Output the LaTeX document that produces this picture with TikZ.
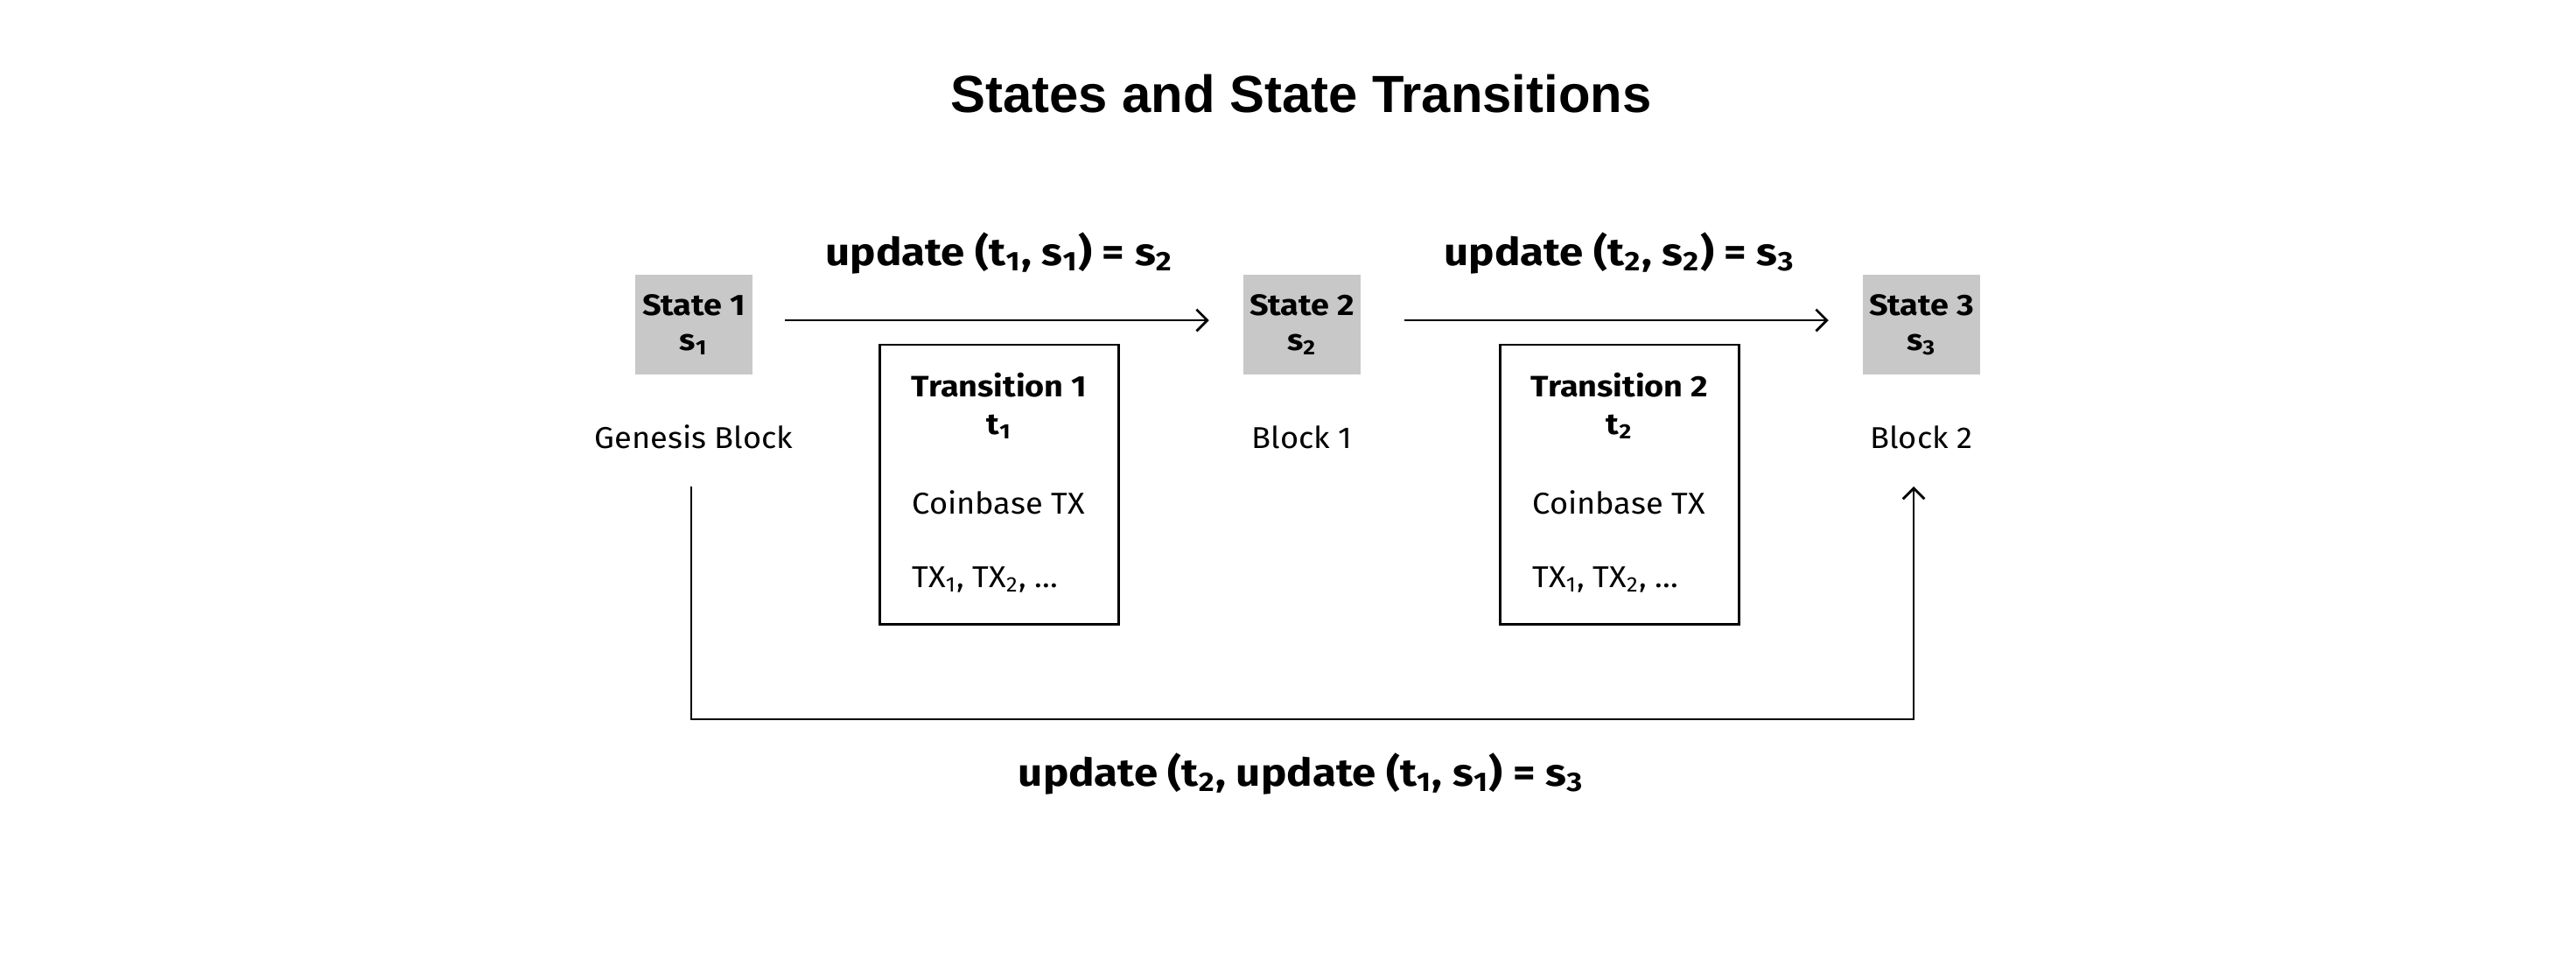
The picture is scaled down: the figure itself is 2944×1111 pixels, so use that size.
\documentclass[tikz,border=0pt]{standalone}
\usepackage{fontspec}
\setmainfont{Fira Sans}[UprightFeatures={FakeStretch=1.05}, BoldFeatures={FakeStretch=1.12}]
\newfontfamily\titlefont{Liberation Sans}
\usetikzlibrary{arrows.meta}
\definecolor{stategray}{RGB}{200,200,200}
\begin{document}
\begin{tikzpicture}[x=0.01cm,y=-0.01cm,
 statebox/.style={fill=stategray, minimum width=1.33cm, minimum height=1.14cm, inner sep=0pt, align=center, font=\fontsize{9.6}{11.4}\selectfont\bfseries},
 transbox/.style={draw, line width=0.8pt, minimum width=2.73cm, minimum height=3.19cm, inner sep=0pt},
 body/.style={font=\fontsize{9.8}{11.4}\selectfont, inner sep=0pt},
 bodybold/.style={font=\fontsize{9.6}{11.4}\selectfont\bfseries, inner sep=0pt},
 updlabel/.style={font=\fontsize{12.5}{14}\selectfont\bfseries, inner sep=0pt},
 conn/.style={line width=0.8pt, -{Straight Barb[length=3.5pt,width=7pt]}},
]
\path[use as bounding box, fill=white] (0,0) rectangle (2944,1111);

\node[font=\titlefont\fontsize{17}{20}\selectfont\bfseries, inner sep=0pt] (title) at (1487,107) {States and State Transitions};

% states
\node[statebox] (s1) at (793,371) {State 1\\s\textsubscript{1}};
\node[statebox] (s2) at (1488,371) {State 2\\s\textsubscript{2}};
\node[statebox] (s3) at (2196,371) {State 3\\s\textsubscript{3}};

% block labels
\node[body, anchor=base] (gen) at (793,512) {Genesis Block};
\node[body, anchor=base] (b1) at (1488,512) {Block 1};
\node[body, anchor=base] (b2) at (2196,512) {Block 2};

% update labels
\node[updlabel] (u1) at (1142,289) {update (t\textsubscript{1}, s\textsubscript{1}) = s\textsubscript{2}};
\node[updlabel] (u2) at (1851,289) {update (t\textsubscript{2}, s\textsubscript{2}) = s\textsubscript{3}};

% arrows between states
\draw[conn, shorten <=0.37cm, shorten >=0.39cm] ([yshift=0.05cm]s1.east) -- ([yshift=0.05cm]s2.west);
\draw[conn, shorten <=0.50cm, shorten >=0.39cm] ([yshift=0.05cm]s2.east) -- ([yshift=0.05cm]s3.west);

% transition boxes
\node[transbox] (tr1) at (1142,553.5) {};
\node[bodybold, anchor=base] (tr1a) at (1142,453) {Transition 1};
\node[bodybold, anchor=base] (tr1b) at (1142,496) {t\textsubscript{1}};
\node[body, anchor=base west] (tr1c) at (1042,587) {Coinbase TX};
\node[body, anchor=base west] (tr1d) at (1042,671) {TX\textsubscript{1}, TX\textsubscript{2}, \dots};

\node[transbox] (tr2) at (1851,553.5) {};
\node[bodybold, anchor=base] (tr2a) at (1851,453) {Transition 2};
\node[bodybold, anchor=base] (tr2b) at (1851,496) {t\textsubscript{2}};
\node[body, anchor=base west] (tr2c) at (1751,587) {Coinbase TX};
\node[body, anchor=base west] (tr2d) at (1751,671) {TX\textsubscript{1}, TX\textsubscript{2}, \dots};

% bottom connector
\coordinate (lb) at (790,556);
\coordinate (rb) at (2187,556);
\draw[conn] (lb) -- ++(0,266) -| (rb);

\node[updlabel] (u3) at (1487,884) {update (t\textsubscript{2}, update (t\textsubscript{1}, s\textsubscript{1}) = s\textsubscript{3}};
\end{tikzpicture}
\end{document}
